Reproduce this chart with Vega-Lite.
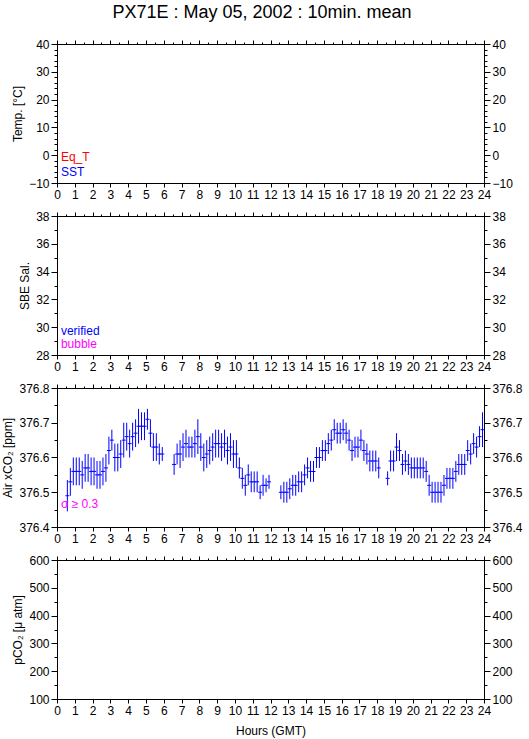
{
"$schema": "https://vega.github.io/schema/vega-lite/v6.json",
"background": "white",
"padding": {"left": 1, "top": 3, "right": 4, "bottom": 3},
"title": {"text": "PX71E : May 05, 2002 : 10min. mean", "font": "Liberation Sans", "fontSize": 18, "fontWeight": "normal", "color": "black", "anchor": "middle", "offset": 16},
"config": {
  "font": "Liberation Sans",
  "view": {"stroke": "black", "strokeWidth": 1},
  "axis": {"labelFont": "Liberation Sans", "labelFontSize": 12, "titleFont": "Liberation Sans", "titleFontSize": 12, "titleFontWeight": "normal", "labelColor": "black", "titleColor": "black", "tickColor": "black", "domainColor": "black", "grid": false, "labelPadding": 2, "tickWidth": 1, "domainWidth": 1, "labelOverlap": false, "labelFlush": false}
},
"spacing": 33,
"bounds": "flush",
"datasets": {
  "co2": [
    {"hour":0.583,"xco2":376.49,"sd":0.045},
    {"hour":0.75,"xco2":376.53,"sd":0.04},
    {"hour":0.917,"xco2":376.56,"sd":0.04},
    {"hour":1.083,"xco2":376.56,"sd":0.04},
    {"hour":1.25,"xco2":376.56,"sd":0.04},
    {"hour":1.417,"xco2":376.55,"sd":0.04},
    {"hour":1.583,"xco2":376.57,"sd":0.04},
    {"hour":1.75,"xco2":376.57,"sd":0.04},
    {"hour":1.917,"xco2":376.56,"sd":0.04},
    {"hour":2.083,"xco2":376.56,"sd":0.04},
    {"hour":2.25,"xco2":376.55,"sd":0.04},
    {"hour":2.417,"xco2":376.55,"sd":0.04},
    {"hour":2.583,"xco2":376.56,"sd":0.04},
    {"hour":2.75,"xco2":376.57,"sd":0.04},
    {"hour":2.917,"xco2":376.62,"sd":0.04},
    {"hour":3.083,"xco2":376.65,"sd":0.03},
    {"hour":3.25,"xco2":376.60,"sd":0.04},
    {"hour":3.417,"xco2":376.60,"sd":0.04},
    {"hour":3.583,"xco2":376.61,"sd":0.04},
    {"hour":3.75,"xco2":376.65,"sd":0.05},
    {"hour":3.917,"xco2":376.66,"sd":0.04},
    {"hour":4.083,"xco2":376.64,"sd":0.04},
    {"hour":4.25,"xco2":376.66,"sd":0.04},
    {"hour":4.417,"xco2":376.67,"sd":0.04},
    {"hour":4.583,"xco2":376.69,"sd":0.05},
    {"hour":4.75,"xco2":376.69,"sd":0.04},
    {"hour":4.917,"xco2":376.69,"sd":0.04},
    {"hour":5.083,"xco2":376.71,"sd":0.03},
    {"hour":5.25,"xco2":376.67,"sd":0.04},
    {"hour":5.417,"xco2":376.63,"sd":0.04},
    {"hour":5.583,"xco2":376.63,"sd":0.04},
    {"hour":5.75,"xco2":376.61,"sd":0.03},
    {"hour":5.917,"xco2":376.61,"sd":0.02},
    {"hour":6.583,"xco2":376.58,"sd":0.03},
    {"hour":6.75,"xco2":376.61,"sd":0.03},
    {"hour":6.917,"xco2":376.61,"sd":0.04},
    {"hour":7.083,"xco2":376.63,"sd":0.04},
    {"hour":7.25,"xco2":376.64,"sd":0.04},
    {"hour":7.417,"xco2":376.63,"sd":0.03},
    {"hour":7.583,"xco2":376.63,"sd":0.03},
    {"hour":7.75,"xco2":376.64,"sd":0.04},
    {"hour":7.917,"xco2":376.66,"sd":0.05},
    {"hour":8.083,"xco2":376.63,"sd":0.04},
    {"hour":8.25,"xco2":376.60,"sd":0.04},
    {"hour":8.417,"xco2":376.61,"sd":0.04},
    {"hour":8.583,"xco2":376.62,"sd":0.04},
    {"hour":8.75,"xco2":376.63,"sd":0.04},
    {"hour":8.917,"xco2":376.64,"sd":0.04},
    {"hour":9.083,"xco2":376.64,"sd":0.04},
    {"hour":9.25,"xco2":376.63,"sd":0.04},
    {"hour":9.417,"xco2":376.64,"sd":0.04},
    {"hour":9.583,"xco2":376.62,"sd":0.04},
    {"hour":9.75,"xco2":376.63,"sd":0.04},
    {"hour":9.917,"xco2":376.61,"sd":0.04},
    {"hour":10.083,"xco2":376.61,"sd":0.04},
    {"hour":10.25,"xco2":376.57,"sd":0.03},
    {"hour":10.417,"xco2":376.54,"sd":0.03},
    {"hour":10.583,"xco2":376.52,"sd":0.03},
    {"hour":10.75,"xco2":376.55,"sd":0.03},
    {"hour":10.917,"xco2":376.53,"sd":0.03},
    {"hour":11.083,"xco2":376.53,"sd":0.03},
    {"hour":11.25,"xco2":376.53,"sd":0.03},
    {"hour":11.417,"xco2":376.50,"sd":0.02},
    {"hour":11.583,"xco2":376.52,"sd":0.03},
    {"hour":11.75,"xco2":376.52,"sd":0.02},
    {"hour":11.917,"xco2":376.53,"sd":0.02},
    {"hour":12.583,"xco2":376.50,"sd":0.02},
    {"hour":12.75,"xco2":376.50,"sd":0.03},
    {"hour":12.917,"xco2":376.50,"sd":0.03},
    {"hour":13.083,"xco2":376.51,"sd":0.03},
    {"hour":13.25,"xco2":376.52,"sd":0.03},
    {"hour":13.417,"xco2":376.52,"sd":0.03},
    {"hour":13.583,"xco2":376.53,"sd":0.03},
    {"hour":13.75,"xco2":376.53,"sd":0.03},
    {"hour":13.917,"xco2":376.55,"sd":0.03},
    {"hour":14.083,"xco2":376.57,"sd":0.03},
    {"hour":14.25,"xco2":376.56,"sd":0.03},
    {"hour":14.417,"xco2":376.56,"sd":0.03},
    {"hour":14.583,"xco2":376.60,"sd":0.03},
    {"hour":14.75,"xco2":376.60,"sd":0.03},
    {"hour":14.917,"xco2":376.62,"sd":0.03},
    {"hour":15.083,"xco2":376.62,"sd":0.03},
    {"hour":15.25,"xco2":376.64,"sd":0.03},
    {"hour":15.417,"xco2":376.65,"sd":0.03},
    {"hour":15.583,"xco2":376.68,"sd":0.03},
    {"hour":15.75,"xco2":376.67,"sd":0.03},
    {"hour":15.917,"xco2":376.67,"sd":0.03},
    {"hour":16.083,"xco2":376.68,"sd":0.03},
    {"hour":16.25,"xco2":376.67,"sd":0.03},
    {"hour":16.417,"xco2":376.65,"sd":0.03},
    {"hour":16.583,"xco2":376.62,"sd":0.03},
    {"hour":16.75,"xco2":376.63,"sd":0.03},
    {"hour":16.917,"xco2":376.63,"sd":0.03},
    {"hour":17.083,"xco2":376.65,"sd":0.03},
    {"hour":17.25,"xco2":376.62,"sd":0.03},
    {"hour":17.417,"xco2":376.61,"sd":0.03},
    {"hour":17.583,"xco2":376.59,"sd":0.03},
    {"hour":17.75,"xco2":376.59,"sd":0.03},
    {"hour":17.917,"xco2":376.59,"sd":0.03},
    {"hour":18.083,"xco2":376.57,"sd":0.03},
    {"hour":18.583,"xco2":376.54,"sd":0.02},
    {"hour":18.75,"xco2":376.59,"sd":0.03},
    {"hour":18.917,"xco2":376.59,"sd":0.03},
    {"hour":19.083,"xco2":376.63,"sd":0.04},
    {"hour":19.25,"xco2":376.62,"sd":0.03},
    {"hour":19.417,"xco2":376.58,"sd":0.03},
    {"hour":19.583,"xco2":376.59,"sd":0.03},
    {"hour":19.75,"xco2":376.58,"sd":0.03},
    {"hour":19.917,"xco2":376.57,"sd":0.03},
    {"hour":20.083,"xco2":376.57,"sd":0.03},
    {"hour":20.25,"xco2":376.57,"sd":0.03},
    {"hour":20.417,"xco2":376.57,"sd":0.03},
    {"hour":20.583,"xco2":376.57,"sd":0.03},
    {"hour":20.75,"xco2":376.56,"sd":0.03},
    {"hour":20.917,"xco2":376.52,"sd":0.03},
    {"hour":21.083,"xco2":376.50,"sd":0.03},
    {"hour":21.25,"xco2":376.50,"sd":0.03},
    {"hour":21.417,"xco2":376.50,"sd":0.03},
    {"hour":21.583,"xco2":376.50,"sd":0.03},
    {"hour":21.75,"xco2":376.52,"sd":0.03},
    {"hour":21.917,"xco2":376.54,"sd":0.03},
    {"hour":22.083,"xco2":376.54,"sd":0.03},
    {"hour":22.25,"xco2":376.54,"sd":0.03},
    {"hour":22.417,"xco2":376.56,"sd":0.03},
    {"hour":22.583,"xco2":376.58,"sd":0.03},
    {"hour":22.75,"xco2":376.58,"sd":0.03},
    {"hour":22.917,"xco2":376.58,"sd":0.03},
    {"hour":23.083,"xco2":376.62,"sd":0.03},
    {"hour":23.25,"xco2":376.61,"sd":0.03},
    {"hour":23.417,"xco2":376.64,"sd":0.03},
    {"hour":23.583,"xco2":376.63,"sd":0.03},
    {"hour":23.75,"xco2":376.66,"sd":0.03},
    {"hour":23.917,"xco2":376.68,"sd":0.05}
  ]
},
"vconcat": [
  {
    "width": 427, "height": 139,
    "data": {"values": [{}]},
    "layer": [
      {"mark": {"type": "text", "align": "left", "baseline": "middle", "fontSize": 12, "color": "#ff0000"},
       "encoding": {
         "x": {"datum": 0.22, "type": "quantitative", "scale": {"domain": [0, 24], "nice": false, "zero": false},
               "axis": {"orient": "bottom", "title": null, "values": [0,0.5,1,1.5,2,2.5,3,3.5,4,4.5,5,5.5,6,6.5,7,7.5,8,8.5,9,9.5,10,10.5,11,11.5,12,12.5,13,13.5,14,14.5,15,15.5,16,16.5,17,17.5,18,18.5,19,19.5,20,20.5,21,21.5,22,22.5,23,23.5,24], "format": "d", "labelExpr": "datum.value % 1 === 0 ? datum.label : ''", "tickSize": {"condition": {"test": "datum.value % 1 === 0", "value": 4}, "value": 2}}},
         "y": {"datum": -0.65, "type": "quantitative", "scale": {"domain": [-10, 40], "nice": false, "zero": false},
               "axis": {"orient": "left", "title": "Temp. [°C]", "values": [-10,-8,-6,-4,-2,0,2,4,6,8,10,12,14,16,18,20,22,24,26,28,30,32,34,36,38,40], "format": "d", "labelExpr": "datum.value % 10 === 0 ? datum.label : ''", "tickSize": {"condition": {"test": "datum.value % 10 === 0", "value": 6}, "value": 3}}},
         "text": {"value": "Eq_T"}}},
      {"mark": {"type": "text", "align": "left", "baseline": "middle", "fontSize": 12, "color": "#0000ff"},
       "encoding": {
         "x": {"datum": 0.22, "type": "quantitative", "scale": {"domain": [0, 24], "nice": false, "zero": false},
               "axis": {"orient": "top", "title": null, "labels": false, "values": [0,0.5,1,1.5,2,2.5,3,3.5,4,4.5,5,5.5,6,6.5,7,7.5,8,8.5,9,9.5,10,10.5,11,11.5,12,12.5,13,13.5,14,14.5,15,15.5,16,16.5,17,17.5,18,18.5,19,19.5,20,20.5,21,21.5,22,22.5,23,23.5,24], "tickSize": {"condition": {"test": "datum.value % 1 === 0", "value": 4}, "value": 2}}},
         "y": {"datum": -6.04, "type": "quantitative", "scale": {"domain": [-10, 40], "nice": false, "zero": false},
               "axis": {"orient": "right", "title": null, "values": [-10,-8,-6,-4,-2,0,2,4,6,8,10,12,14,16,18,20,22,24,26,28,30,32,34,36,38,40], "format": "d", "labelExpr": "datum.value % 10 === 0 ? datum.label : ''", "tickSize": {"condition": {"test": "datum.value % 10 === 0", "value": 6}, "value": 3}}},
         "text": {"value": "SST"}}}
    ],
    "resolve": {"axis": {"x": "independent", "y": "independent"}}
  },
  {
    "width": 427, "height": 139,
    "data": {"values": [{}]},
    "layer": [
      {"mark": {"type": "text", "align": "left", "baseline": "middle", "fontSize": 12, "color": "#0000ff"},
       "encoding": {
         "x": {"datum": 0.22, "type": "quantitative", "scale": {"domain": [0, 24], "nice": false, "zero": false},
               "axis": {"orient": "bottom", "title": null, "values": [0,0.5,1,1.5,2,2.5,3,3.5,4,4.5,5,5.5,6,6.5,7,7.5,8,8.5,9,9.5,10,10.5,11,11.5,12,12.5,13,13.5,14,14.5,15,15.5,16,16.5,17,17.5,18,18.5,19,19.5,20,20.5,21,21.5,22,22.5,23,23.5,24], "format": "d", "labelExpr": "datum.value % 1 === 0 ? datum.label : ''", "tickSize": {"condition": {"test": "datum.value % 1 === 0", "value": 4}, "value": 2}}},
         "y": {"datum": 29.73, "type": "quantitative", "scale": {"domain": [28, 38], "nice": false, "zero": false},
               "axis": {"orient": "left", "title": "SBE Sal.", "values": [28,29,30,31,32,33,34,35,36,37,38], "format": "d", "labelExpr": "datum.value % 2 === 0 ? datum.label : ''", "tickSize": {"condition": {"test": "datum.value % 2 === 0", "value": 6}, "value": 3}}},
         "text": {"value": "verified"}}},
      {"mark": {"type": "text", "align": "left", "baseline": "middle", "fontSize": 12, "color": "#ff00ff"},
       "encoding": {
         "x": {"datum": 0.22, "type": "quantitative", "scale": {"domain": [0, 24], "nice": false, "zero": false},
               "axis": {"orient": "top", "title": null, "labels": false, "values": [0,0.5,1,1.5,2,2.5,3,3.5,4,4.5,5,5.5,6,6.5,7,7.5,8,8.5,9,9.5,10,10.5,11,11.5,12,12.5,13,13.5,14,14.5,15,15.5,16,16.5,17,17.5,18,18.5,19,19.5,20,20.5,21,21.5,22,22.5,23,23.5,24], "tickSize": {"condition": {"test": "datum.value % 1 === 0", "value": 4}, "value": 2}}},
         "y": {"datum": 28.79, "type": "quantitative", "scale": {"domain": [28, 38], "nice": false, "zero": false},
               "axis": {"orient": "right", "title": null, "values": [28,29,30,31,32,33,34,35,36,37,38], "format": "d", "labelExpr": "datum.value % 2 === 0 ? datum.label : ''", "tickSize": {"condition": {"test": "datum.value % 2 === 0", "value": 6}, "value": 3}}},
         "text": {"value": "bubble"}}}
    ],
    "resolve": {"axis": {"x": "independent", "y": "independent"}}
  },
  {
    "width": 427, "height": 139,
    "data": {"name": "co2"},
    "layer": [
      {"mark": {"type": "errorbar", "color": "#0000ff"},
       "encoding": {
         "x": {"field": "hour", "type": "quantitative", "scale": {"domain": [0, 24], "nice": false, "zero": false},
               "axis": {"orient": "bottom", "title": null, "values": [0,0.5,1,1.5,2,2.5,3,3.5,4,4.5,5,5.5,6,6.5,7,7.5,8,8.5,9,9.5,10,10.5,11,11.5,12,12.5,13,13.5,14,14.5,15,15.5,16,16.5,17,17.5,18,18.5,19,19.5,20,20.5,21,21.5,22,22.5,23,23.5,24], "format": "d", "labelExpr": "datum.value % 1 === 0 ? datum.label : ''", "tickSize": {"condition": {"test": "datum.value % 1 === 0", "value": 4}, "value": 2}}},
         "y": {"field": "xco2", "type": "quantitative", "scale": {"domain": [376.4, 376.8], "nice": false, "zero": false},
               "axis": {"orient": "left", "title": "Air xCO₂ [ppm]", "values": [376.4,376.45,376.5,376.55,376.6,376.65,376.7,376.75,376.8], "format": ".1f", "labelExpr": "abs(datum.value*10 - round(datum.value*10)) < 0.001 ? datum.label : ''", "tickSize": {"condition": {"test": "abs(datum.value*10 - round(datum.value*10)) < 0.001", "value": 6}, "value": 3}}},
         "yError": {"field": "sd"}}},
      {"mark": {"type": "tick", "orient": "horizontal", "size": 4, "thickness": 1, "color": "#0000ff", "opacity": 1},
       "encoding": {
         "x": {"field": "hour", "type": "quantitative", "scale": {"domain": [0, 24], "nice": false, "zero": false},
               "axis": {"orient": "top", "title": null, "labels": false, "values": [0,0.5,1,1.5,2,2.5,3,3.5,4,4.5,5,5.5,6,6.5,7,7.5,8,8.5,9,9.5,10,10.5,11,11.5,12,12.5,13,13.5,14,14.5,15,15.5,16,16.5,17,17.5,18,18.5,19,19.5,20,20.5,21,21.5,22,22.5,23,23.5,24], "tickSize": {"condition": {"test": "datum.value % 1 === 0", "value": 4}, "value": 2}}},
         "y": {"field": "xco2", "type": "quantitative", "scale": {"domain": [376.4, 376.8], "nice": false, "zero": false},
               "axis": {"orient": "right", "title": null, "values": [376.4,376.45,376.5,376.55,376.6,376.65,376.7,376.75,376.8], "format": ".1f", "labelExpr": "abs(datum.value*10 - round(datum.value*10)) < 0.001 ? datum.label : ''", "tickSize": {"condition": {"test": "abs(datum.value*10 - round(datum.value*10)) < 0.001", "value": 6}, "value": 3}}}}},
      {"data": {"values": [{}]},
       "mark": {"type": "text", "align": "left", "baseline": "middle", "fontSize": 12, "color": "#ff00ff"},
       "encoding": {
         "x": {"datum": 0.22, "type": "quantitative", "axis": null},
         "y": {"datum": 376.466, "type": "quantitative", "axis": null},
         "text": {"value": "σ ≥ 0.3"}}}
    ],
    "resolve": {"axis": {"x": "independent", "y": "independent"}}
  },
  {
    "width": 427, "height": 139,
    "data": {"values": []},
    "layer": [
      {"mark": {"type": "point", "color": "#0000ff"},
       "encoding": {
         "x": {"field": "hour", "type": "quantitative", "scale": {"domain": [0, 24], "nice": false, "zero": false},
               "axis": {"orient": "bottom", "title": "Hours (GMT)", "titlePadding": 9, "values": [0,0.5,1,1.5,2,2.5,3,3.5,4,4.5,5,5.5,6,6.5,7,7.5,8,8.5,9,9.5,10,10.5,11,11.5,12,12.5,13,13.5,14,14.5,15,15.5,16,16.5,17,17.5,18,18.5,19,19.5,20,20.5,21,21.5,22,22.5,23,23.5,24], "format": "d", "labelExpr": "datum.value % 1 === 0 ? datum.label : ''", "tickSize": {"condition": {"test": "datum.value % 1 === 0", "value": 4}, "value": 2}}},
         "y": {"field": "pco2", "type": "quantitative", "scale": {"domain": [100, 600], "nice": false, "zero": false},
               "axis": {"orient": "left", "title": "pCO₂ [μ atm]", "values": [100,150,200,250,300,350,400,450,500,550,600], "format": "d", "labelExpr": "datum.value % 100 === 0 ? datum.label : ''", "tickSize": {"condition": {"test": "datum.value % 100 === 0", "value": 6}, "value": 3}}}}},
      {"mark": {"type": "point", "color": "#ff0000"},
       "encoding": {
         "x": {"field": "hour", "type": "quantitative", "scale": {"domain": [0, 24], "nice": false, "zero": false},
               "axis": {"orient": "top", "title": null, "labels": false, "values": [0,0.5,1,1.5,2,2.5,3,3.5,4,4.5,5,5.5,6,6.5,7,7.5,8,8.5,9,9.5,10,10.5,11,11.5,12,12.5,13,13.5,14,14.5,15,15.5,16,16.5,17,17.5,18,18.5,19,19.5,20,20.5,21,21.5,22,22.5,23,23.5,24], "tickSize": {"condition": {"test": "datum.value % 1 === 0", "value": 4}, "value": 2}}},
         "y": {"field": "pco2", "type": "quantitative", "scale": {"domain": [100, 600], "nice": false, "zero": false},
               "axis": {"orient": "right", "title": null, "values": [100,150,200,250,300,350,400,450,500,550,600], "format": "d", "labelExpr": "datum.value % 100 === 0 ? datum.label : ''", "tickSize": {"condition": {"test": "datum.value % 100 === 0", "value": 6}, "value": 3}}}}}
    ],
    "resolve": {"axis": {"x": "independent", "y": "independent"}}
  }
]
}
